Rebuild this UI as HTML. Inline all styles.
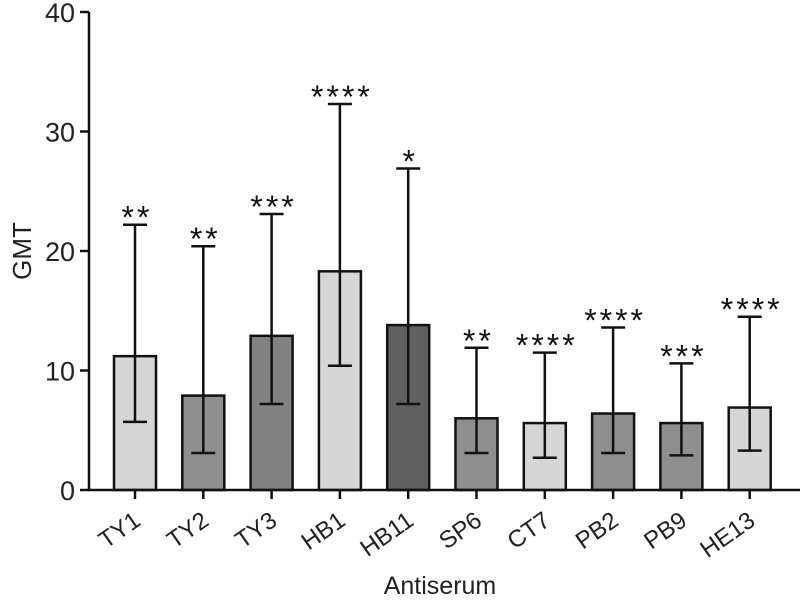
<!DOCTYPE html>
<html><head><meta charset="utf-8"><style>
html,body{margin:0;padding:0;background:#fff;}
svg{display:block;font-family:"Liberation Sans",sans-serif;}
</style></head><body>
<svg id="chart" width="800" height="600"></svg>
<script>
const categories = ["TY1","TY2","TY3","HB1","HB11","SP6","CT7","PB2","PB9","HE13"];
const values = [11.2,7.9,12.9,18.3,13.8,6.0,5.6,6.4,5.6,6.9];
const lowers = [5.7,3.1,7.2,10.4,7.2,3.1,2.7,3.1,2.9,3.3];
const uppers = [22.2,20.4,23.1,32.3,26.9,11.9,11.5,13.6,10.6,14.5];
const stars = ["**","**","***","****","*","**","****","****","***","****"];
const fills = ["#d6d6d6","#8e8e8e","#828282","#d6d6d6","#606060","#8e8e8e","#d6d6d6","#8e8e8e","#8e8e8e","#d6d6d6"];
const yTicks = [0,10,20,30,40];

const NS="http://www.w3.org/2000/svg";
const svg=document.getElementById('chart');
const x0=89, yBase=490, yTop=12, yMax=40;
const y=v=>yBase-(v/yMax)*(yBase-yTop);
const xc=i=>135+i*68.3;
const bw=42;
function mk(tag,attrs){const e=document.createElementNS(NS,tag);for(const k in attrs)e.setAttribute(k,attrs[k]);svg.appendChild(e);return e;}

categories.forEach((c,i)=>{
  const cx=xc(i);
  const bar=mk('rect',{x:cx-bw/2,y:y(values[i]),width:bw,height:yBase-y(values[i]),fill:fills[i],stroke:'#111','stroke-width':2.5});
  
  
  const eb=mk('path',{d:`M${cx},${y(lowers[i])}V${y(uppers[i])}M${cx-12},${y(uppers[i])}H${cx+12}M${cx-12},${y(lowers[i])}H${cx+12}`,stroke:'#111','stroke-width':2.5,fill:'none'});
  
  
  const st=mk('text',{x:cx+2,y:y(uppers[i])+4,'text-anchor':'middle','font-size':32,fill:'#111','letter-spacing':3});
  st.textContent=stars[i];
  
  
  const tk=mk('line',{x1:cx,x2:cx,y1:yBase,y2:yBase+9,stroke:'#111','stroke-width':2.5});
  
  
  const lb=mk('text',{x:cx+7,y:yBase+34,'text-anchor':'end','font-size':24,fill:'#222',transform:`rotate(-35 ${cx+7} ${yBase+34})`});
  lb.textContent=c;
  
  
});

yTicks.forEach(t=>{
  const tk=mk('line',{x1:x0-9,x2:x0,y1:y(t),y2:y(t),stroke:'#111','stroke-width':2.5});
  
  
  const lb=mk('text',{x:x0-14,y:y(t)+10,'text-anchor':'end','font-size':27,fill:'#222'});
  lb.textContent=t;
  
  
});

const ax=mk('path',{d:`M${x0},${yTop}V${yBase}H800`,stroke:'#111','stroke-width':2.5,fill:'none'});



const yt=mk('text',{x:31,y:251,'text-anchor':'middle','font-size':26,fill:'#222',transform:'rotate(-90 31 251)'});
yt.textContent='GMT';



const xt=mk('text',{x:440,y:594,'text-anchor':'middle','font-size':25,fill:'#222'});
xt.textContent='Antiserum';


</script>
</body></html>
